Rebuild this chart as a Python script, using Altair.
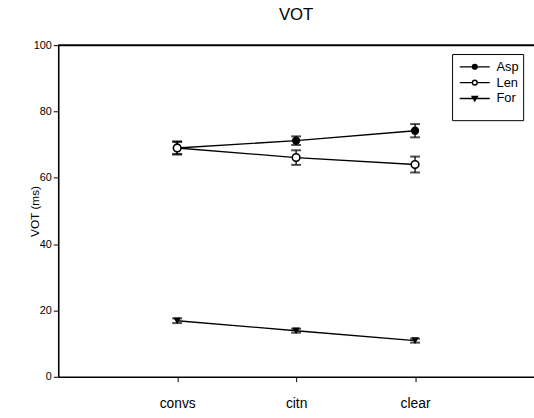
import altair as alt
import pandas as pd

# Speech conditions on the x axis, positioned at 1, 2, 3
conditions = ["convs", "citn", "clear"]
positions = [1, 2, 3]

# Mean VOT (ms) and error half-widths per stop type
series = ["Asp", "Len", "For"]
asp_mean = [69.0, 71.2, 74.2]
asp_err = [2.0, 1.3, 2.0]
len_mean = [69.0, 66.1, 64.0]
len_err = [1.8, 2.2, 2.4]
for_mean = [16.9, 13.9, 10.9]
for_err = [0.7, 0.6, 0.6]

rows = []
for name, means, errs in [("Asp", asp_mean, asp_err),
                          ("Len", len_mean, len_err),
                          ("For", for_mean, for_err)]:
    for cond, pos, m, e in zip(conditions, positions, means, errs):
        rows.append({"series": name, "cond": cond, "pos": pos,
                     "vot": m, "lo": m - e, "hi": m + e})
df = pd.DataFrame(rows)

FONT = "Liberation Sans"

label_expr = ("datum.value == 1 ? 'convs' : datum.value == 2 ? 'citn' : "
              "datum.value == 3 ? 'clear' : ''")

x = alt.X("pos:Q",
          scale=alt.Scale(domain=[0, 4], nice=False, zero=False),
          axis=alt.Axis(title=None, values=positions, labelExpr=label_expr,
                        grid=False, tickSize=5, labelFontSize=14,
                        labelPadding=15, labelColor="black", tickColor="black",
                        domainColor="black", domainWidth=1.6, labelFont=FONT))
y = alt.Y("vot:Q",
          scale=alt.Scale(domain=[0, 100], nice=False),
          axis=alt.Axis(title="VOT (ms)", values=[0, 20, 40, 60, 80, 100],
                        grid=False, tickSize=5, labelFontSize=11,
                        labelColor="black", tickColor="black",
                        domainColor="black", domainWidth=1.6,
                        titleFontSize=12, titleFontWeight="normal",
                        titleColor="black", titleX=-17, labelFont=FONT,
                        titleFont=FONT))

base = alt.Chart(df)

lines = base.mark_line(color="black", strokeWidth=1.4).encode(
    x=x, y=y, detail="series:N")

err_rule = base.mark_rule(color="black", strokeWidth=1.3).encode(
    x="pos:Q", y="lo:Q", y2="hi:Q")
cap_lo = base.mark_tick(color="black", size=10, thickness=2,
                        orient="horizontal").encode(x="pos:Q", y="lo:Q")
cap_hi = base.mark_tick(color="black", size=10, thickness=2,
                        orient="horizontal").encode(x="pos:Q", y="hi:Q")

pt_asp = base.transform_filter(alt.datum.series == "Asp").mark_point(
    shape="circle", filled=True, color="black", size=70, opacity=1
).encode(x="pos:Q", y="vot:Q")
pt_len = base.transform_filter(alt.datum.series == "Len").mark_point(
    shape="circle", filled=True, fill="white", stroke="black",
    strokeWidth=1.6, size=60, opacity=1
).encode(x="pos:Q", y="vot:Q")
pt_for = base.transform_filter(alt.datum.series == "For").mark_point(
    shape="triangle-down", filled=True, color="black", size=60, opacity=1
).encode(x="pos:Q", y="vot:Q")

top_line = alt.Chart(pd.DataFrame({"top": [100]})).mark_rule(
    color="black", strokeWidth=2).encode(y="top:Q")

# Legend glyphs: a short line with the marker in the middle
sym_circle = ("M-1.9,0H-0.3M0.3,0H1.9"
              "M-0.3,0A0.3,0.3 0 1,0 0.3,0A0.3,0.3 0 1,0 -0.3,0Z")
sym_tri = "M-1.9,0H-0.3M0.3,0H1.9M-0.34,-0.26L0.34,-0.26L0,0.32Z"
legend_df = pd.DataFrame({"series": series})

# Em-space title at the bottom deepens the legend frame
legend_spec = alt.Legend(title="\u2003" * 9, titleOrient="bottom",
                         titleFontSize=10, titlePadding=1,
                         orient="none", legendX=399, legendY=9,
                         symbolSize=256, symbolOpacity=1,
                         symbolStrokeColor="black", symbolStrokeWidth=1.4,
                         symbolOffset=10,
                         labelFontSize=13, labelFont=FONT,
                         labelColor="black", labelOffset=13,
                         rowPadding=0, padding=4,
                         strokeColor="black", fillColor="white")

legend_layer = alt.Chart(legend_df).mark_point(
    opacity=0, filled=True, strokeWidth=1.5
).encode(
    shape=alt.Shape("series:N",
                    scale=alt.Scale(domain=series,
                                    range=[sym_circle, sym_circle, sym_tri]),
                    legend=legend_spec),
    fill=alt.Fill("series:N",
                  scale=alt.Scale(domain=series,
                                  range=["black", "white", "black"]),
                  legend=legend_spec),
    stroke=alt.Stroke("series:N",
                      scale=alt.Scale(domain=series,
                                      range=["black", "black", "black"]),
                      legend=legend_spec),
)

chart = alt.layer(
    top_line, lines, err_rule, cap_lo, cap_hi, pt_asp, pt_len, pt_for,
    legend_layer
).properties(
    width=482, height=336,
    background="white",
    title=alt.TitleParams("VOT", fontSize=17, font=FONT,
                          fontWeight="normal", color="black", offset=15),
    autosize=alt.AutoSizeParams(type="none"),
    padding={"left": 59, "top": 43, "right": 0, "bottom": 39},
).configure_view(strokeWidth=0)

chart.save("out.html", embed_options={"renderer": "svg", "actions": False})
